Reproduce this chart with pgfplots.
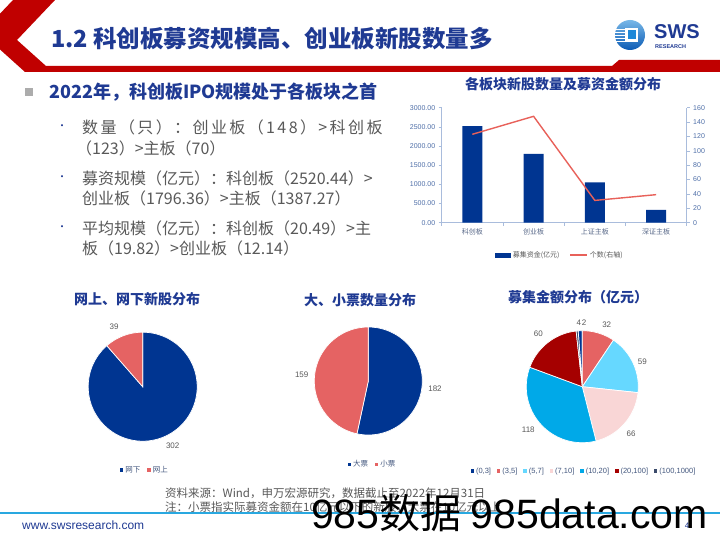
\documentclass[border=0pt]{standalone}
\usepackage{fontspec}
\setmainfont{Noto Sans CJK SC}
\newfontfamily\lib{Liberation Sans}
\newfontfamily\cjkwide{Noto Sans CJK SC}[LetterSpace=15]
\usepackage{pgfplots}
\pgfplotsset{compat=1.18}

\definecolor{hdrred}{HTML}{C00000}
\definecolor{swsblue}{HTML}{1F3A93}
\definecolor{txtgray}{HTML}{595959}
\definecolor{bardark}{HTML}{003591}
\definecolor{linered}{HTML}{E8615A}
\definecolor{axblue}{HTML}{4F6FA8}
\definecolor{axline}{HTML}{A9BCDC}
\definecolor{cattext}{HTML}{5A6A8A}
\definecolor{legtext}{HTML}{44587F}
\definecolor{pblue}{HTML}{003591}
\definecolor{pred}{HTML}{E56363}
\definecolor{pcyan}{HTML}{66D8FF}
\definecolor{ppink}{HTML}{F9D6D6}
\definecolor{pbright}{HTML}{00A9E8}
\definecolor{pdred}{HTML}{A50000}
\definecolor{pgray}{HTML}{3B4B6B}
\definecolor{footblue}{HTML}{29A8E0}
\definecolor{logoblue}{HTML}{1E88D8}
\definecolor{logodark}{HTML}{0B5BB5}

\newcommand\fs[1]{\fontsize{#1}{#1}\selectfont}

\newcommand\pieslice[4]{%
  \pgfmathsetmacro\pa{\pieangle}%
  \pgfmathsetmacro\pb{\pieangle-#1/#2*360}%
  \xdef\pieangle{\pb}%
  \edef\temp{\noexpand\addplot[fill=#3,draw=white,line width=0.7pt,domain=\pb:\pa,samples=80] ({cos(x)},{sin(x)}) -- (axis cs:0,0) -- cycle;}%
  \temp
  \addlegendentry{#4}}

\pgfplotsset{pieaxis/.style={scale only axis, hide axis, xmin=-1,xmax=1,ymin=-1,ymax=1, clip=false,
  legend image code/.code={\path[##1,draw=none] (0pt,-1.7pt) rectangle (3.4pt,1.7pt);},
  legend style={draw=none, fill=none, legend columns=-1, anchor=center, font=\fs{7.5}, text=legtext,
    /tikz/every even column/.append style={column sep=5pt}, inner sep=0pt},
  legend cell align=left}}

\pgfplotsset{barbase/.style={at={(441.7pt,-222.7pt)}, anchor=south west, scale only axis,
  width=245pt, height=115pt, xmin=-0.5, xmax=3.5,
  axis line style={draw=axline,line width=0.6pt},
  tick style={draw=axline,line width=0.6pt},
  tick align=outside, major tick length=3pt,
  /pgf/number format/assume math mode=true,
  yticklabel style={font=\lib\fs{7}, text=axblue}}}

\begin{document}
\begin{tikzpicture}[x=1pt,y=-1pt]
\useasboundingbox (0,0) rectangle (720,540);
\fill[white] (0,0) rectangle (720,540);

% header
\fill[hdrred] (13,0) -- (55,0) -- (17,40) -- (46,66) -- (612,66) -- (619,60) -- (720,60) -- (720,72) -- (25,72) -- (0,49.5) -- (0,13.7) -- cycle;
\node[anchor=west, text=swsblue, font=\bfseries\fs{23.5}, inner sep=0pt] at (51,39) {1.2 科创板募资规模高、创业板新股数量多};

% logo
\shade[top color=logoblue!60!white, bottom color=logodark] (630,35) circle (15);
\fill[white] (625,28) rectangle (638,42);
\fill[logoblue] (627.5,30.5) rectangle (635.5,39.5);
\foreach \yy in {29.5,32.5,35.5,38.5,41.5} {\draw[white, line width=0.8pt] (615,\yy) -- (625,\yy);}
\node[anchor=west, text=swsblue, font=\lib\bfseries\fs{20}, inner sep=0pt] at (654,32) {SWS};
\node[anchor=west, text=swsblue, font=\lib\bfseries\fs{5.5}, inner sep=0pt] at (655,46.5) {RESEARCH};

% left text
\fill[gray!65] (25,88) rectangle (33,96);
\node[anchor=west, text=swsblue, font=\bfseries\fs{18}, inner sep=0pt] at (49,91.7) {2022年，科创板IPO规模处于各板块之首};
\foreach \yy in {127,178,228} {\node[text=swsblue, font=\fs{10}, inner sep=0pt] at (62,\yy) {•};}
\begin{scope}[every node/.style={anchor=west, text=txtgray, font=\fs{16}, inner sep=0pt}]
\node[font=\cjkwide\fs{16}] at (82,127) {数量（只）：创业板（148）>科创板};
\node at (76,148) {（123）>主板（70）};
\node at (82,178) {募资规模（亿元）：科创板（2520.44）>};
\node at (82,198) {创业板（1796.36）>主板（1387.27）};
\node at (82,228) {平均规模（亿元）：科创板（20.49）>主};
\node at (82,248) {板（19.82）>创业板（12.14）};
\end{scope}

% bar chart
\node[text=swsblue, font=\bfseries\fs{14}, inner sep=0pt] at (563,84) {各板块新股数量及募资金额分布};
\begin{axis}[barbase, ymin=0, ymax=3000,
  axis x line*=bottom, axis y line*=left,
  ytick={0,500,...,3000},
  yticklabel style={/pgf/number format/fixed, /pgf/number format/fixed zerofill, /pgf/number format/precision=2, /pgf/number format/1000 sep={}},
  xtick={-0.5,0.5,1.5,2.5,3.5}, xticklabels={},
  extra x ticks={0,1,2,3}, extra x tick labels={科创板,创业板,上证主板,深证主板},
  extra x tick style={major tick length=0pt, xticklabel style={font=\fs{7}, text=cattext, yshift=-2pt}}]
\addplot[ybar, bar width=20pt, fill=bardark, draw=none] coordinates {(0,2520.44) (1,1796.36) (2,1055) (3,332)};
\end{axis}
\begin{axis}[barbase, ymin=0, ymax=160,
  axis y line*=right, axis x line=none,
  ytick={0,20,...,160},
  legend columns=2,
  legend style={draw=none, fill=none, at={(0.483,-0.28)}, anchor=center, font=\fs{7}, text=txtgray,
    /tikz/every even column/.append style={column sep=8pt}}]
\addlegendimage{legend image code/.code={\fill[bardark] (0pt,-2pt) rectangle (15pt,2pt);}}
\addlegendentry{募集资金(亿元)}
\addplot[linered, line width=1.4pt, mark=none] coordinates {(0,123) (1,148) (2,31) (3,39)};
\addlegendentry{个数(右轴)}
\end{axis}

% pie 1
\node[text=swsblue, font=\bfseries\fs{14}, inner sep=0pt] at (137,299) {网上、网下新股分布};
\gdef\pieangle{90}
\begin{axis}[pieaxis, at={(142.7pt,-386.7pt)}, anchor=center, width=109pt, height=109pt,
  legend style={at={(0.521,-0.264)}}]
\pieslice{302}{341}{pblue}{网下}
\pieslice{39}{341}{pred}{网上}
\end{axis}
\node[text=txtgray, font=\lib\fs{8}] at (114,327) {39};
\node[text=txtgray, font=\lib\fs{8}] at (172.7,445.7) {302};

% pie 2
\node[text=swsblue, font=\bfseries\fs{14}, inner sep=0pt] at (360,300) {大、小票数量分布};
\gdef\pieangle{90}
\begin{axis}[pieaxis, at={(368.3pt,-381pt)}, anchor=center, width=108pt, height=108pt,
  legend style={at={(0.539,-0.271)}}]
\pieslice{182}{341}{pblue}{大票}
\pieslice{159}{341}{pred}{小票}
\end{axis}
\node[text=txtgray, font=\lib\fs{8}] at (301.7,375) {159};
\node[text=txtgray, font=\lib\fs{8}] at (435,389) {182};

% pie 3
\node[text=swsblue, font=\bfseries\fs{14}, inner sep=0pt] at (578,297) {募集金额分布（亿元）};
\gdef\pieangle{94.22}
\begin{axis}[pieaxis, at={(582.3pt,-386.7pt)}, anchor=center, width=112pt, height=112pt,
  legend style={at={(0.515,-0.253)}, font=\lib\fs{7.5}, /tikz/every even column/.append style={column sep=4pt}}]
\pieslice{4}{341}{pblue}{(0,3]}
\pieslice{32}{341}{pred}{(3,5]}
\pieslice{59}{341}{pcyan}{(5,7]}
\pieslice{66}{341}{ppink}{(7,10]}
\pieslice{118}{341}{pbright}{(10,20]}
\pieslice{60}{341}{pdred}{(20,100]}
\pieslice{2}{341}{pgray}{(100,1000]}
\end{axis}
\begin{scope}[every node/.style={text=txtgray, font=\lib\fs{8}}]
\node at (578.8,322.3) {4};
\node at (584,322.3) {2};
\node at (606.7,324.3) {32};
\node at (642.3,361.7) {59};
\node at (631,433.3) {66};
\node at (528.3,430) {118};
\node at (538.3,333.3) {60};
\end{scope}

% source
\node[anchor=west, text=txtgray, font=\fs{11.5}, inner sep=0pt] at (165,493) {资料来源：Wind，申万宏源研究，数据截止至2022年12月31日};
\node[anchor=west, text=txtgray, font=\fs{11.5}, inner sep=0pt] at (165,507) {注：小票指实际募资金额在10亿元以下的新股，大票在10亿元以上};

% footer
\draw[footblue, line width=1.5pt] (0,513) -- (720,513);
\node[anchor=west, text=swsblue, font=\lib\fs{12}, inner sep=0pt] at (22,525) {www.swsresearch.com};
\node[text=swsblue, font=\lib\fs{8}, inner sep=0pt] at (687,526) {4};

% watermark
\node[anchor=base west, text=black, font=\fs{41}, inner sep=0pt] at (311,528) {{\lib 985}数据 {\lib 985data.com}};
\end{tikzpicture}
\end{document}
